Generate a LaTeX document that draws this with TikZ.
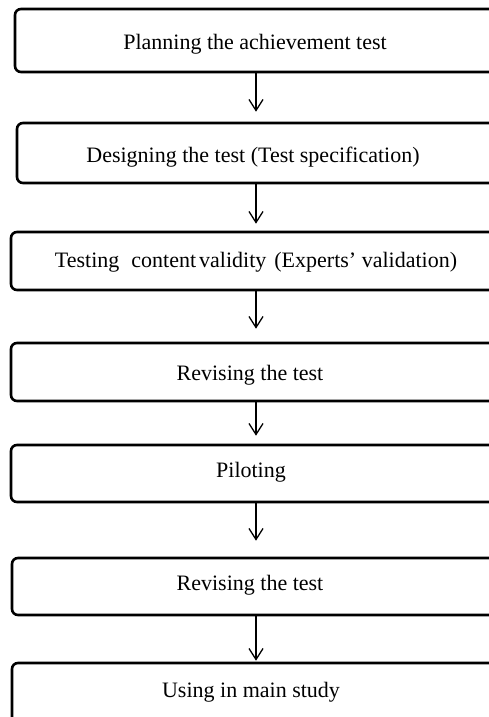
\documentclass[tikz,border=0pt]{standalone}
\usepackage{fontspec}
\setmainfont{Liberation Serif}
\usetikzlibrary{arrows.meta}

\begin{document}
\begin{tikzpicture}[x=1pt,y=-1pt,
  stagebox/.style={draw=black, line width=2.6pt, rounded corners=6pt,
    inner sep=0pt, fill=none},
  stagetext/.style={anchor=base, inner sep=0pt, font=\fontsize{22}{26}\selectfont},
  flow/.style={draw=black, line width=1.3pt,
    -{Straight Barb[length=11pt,width=14pt,line width=1.3pt]}}]

  % page frame
  \useasboundingbox (0,0) rectangle (489,717);
  \clip (0,0) rectangle (489,717);

  % stage boxes (right edges run past the page)
  \node[stagebox, minimum width=490pt, minimum height=63pt] (b1) at (260,40.5) {};
  \node[stagebox, minimum width=488pt, minimum height=60pt] (b2) at (261,153) {};
  \node[stagebox, minimum width=494pt, minimum height=58pt] (b3) at (258,261) {};
  \node[stagebox, minimum width=494pt, minimum height=58pt] (b4) at (258,372) {};
  \node[stagebox, minimum width=494pt, minimum height=57pt] (b5) at (258,473.5) {};
  \node[stagebox, minimum width=493pt, minimum height=57pt] (b6) at (258.5,586.5) {};
  \node[stagebox, minimum width=493pt, minimum height=67pt] (b7) at (258.5,696.5) {};

  % stage labels
  \node[stagetext] (t1) at (255,49)  {Planning the achievement test};
  \node[stagetext] (t2) at (253,162) {Designing the test (Test specification)};
  \node[stagetext] (t3) at (256,267) {Testing\hspace{12pt}content\hspace{3pt}validity\hspace{8pt}(Experts’ validation)};
  \node[stagetext] (t4) at (250,380) {Revising the test};
  \node[stagetext] (t5) at (251,477) {Piloting};
  \node[stagetext] (t6) at (250,590) {Revising the test};
  \node[stagetext] (t7) at (251,697) {Using in main study};

  % column of the connectors
  \coordinate (ax) at (256,0);

  \draw[flow, shorten >=10pt] (b1.south -| ax) -- (b2.north -| ax);
  \draw[flow, shorten >=7pt]  (b2.south -| ax) -- (b3.north -| ax);
  \draw[flow, shorten >=13pt] (b3.south -| ax) -- (b4.north -| ax);
  \draw[flow, shorten >=8pt]  (b4.south -| ax) -- (b5.north -| ax);
  \draw[flow, shorten >=16pt] (b5.south -| ax) -- (b6.north -| ax);
  \draw[flow, shorten >=1pt]  (b6.south -| ax) -- (b7.north -| ax);
\end{tikzpicture}
\end{document}
